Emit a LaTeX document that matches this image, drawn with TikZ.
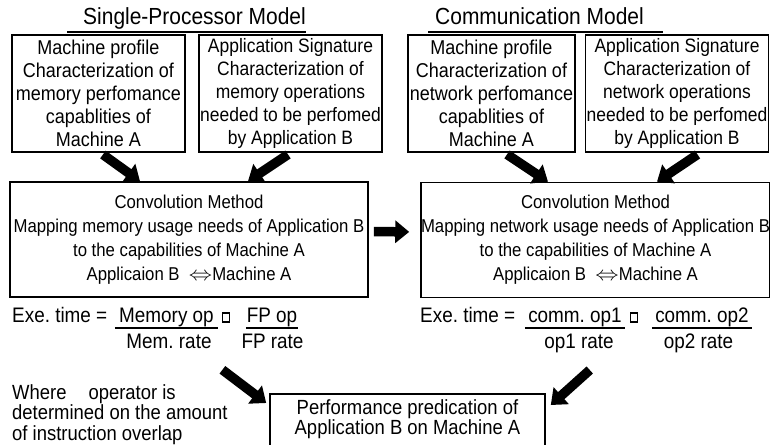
\documentclass[tikz,border=0pt]{standalone}
\usepackage{fontspec}
\setmainfont[FakeStretch=0.9]{Liberation Sans}
\usetikzlibrary{arrows.meta, positioning, calc}

\newcommand{\swap}{\scalebox{1.35}[1.15]{$\Leftrightarrow$}}

\begin{document}
\begin{tikzpicture}[
        x=1pt, y=-1pt,
        every node/.style={align=center, inner sep=0pt},
        box/.style={draw, line width=1.6pt, minimum height=117pt},
        profile/.style={box, font=\fontsize{20}{23}\selectfont},
        signature/.style={box, minimum width=183pt, font=\fontsize{19.4}{23}\selectfont},
        conv/.style={draw, line width=1.6pt, minimum height=115pt, font=\fontsize{18.6}{24}\selectfont},
        title/.style={anchor=base west, font=\fontsize{23.3}{24}\selectfont},
        formula/.style={anchor=base, font=\fontsize{21}{22}\selectfont},
        bar/.style={line width=1.3pt},
        opsym/.style={draw, line width=1.1pt, minimum width=7pt, minimum height=9pt},
        fat/.style={line width=9.5pt, -{Triangle[width=22pt, length=14pt]}, shorten <=3pt}
    ]
        \useasboundingbox (0,0) rectangle (770,444);
        \clip (0,0) rectangle (770,444);

        % titles
        \node[title] (titleL) at (83,25) {Single-Processor Model};
        \node[title] (titleR) at (435,25) {Communication Model};
        \draw[bar] ([shift={(-16pt,-7pt)}]titleL.base west) -- ([yshift=-7pt]titleL.base east);
        \draw[bar] ([shift={(-7pt,-7pt)}]titleR.base west) -- ([shift={(19pt,-7pt)}]titleR.base east);

        % machine profiles and application signatures
        \node[profile, minimum width=173pt] (mpL) at (98.5,93.5)
            {Machine profile\\Characterization of\\memory perfomance\\capablities of\\Machine A};
        \node[signature] (asL) at (290.5,93.5)
            {Application Signature\\Characterization of\\memory operations\\needed to be perfomed\\by Application B};
        \node[profile, minimum width=167pt] (mpR) at (491.5,93.5)
            {Machine profile\\Characterization of\\network perfomance\\capablities of\\Machine A};
        \node[signature] (asR) at (677,93.5)
            {Application Signature\\Characterization of\\network operations\\needed to be perfomed\\by Application B};

        % convolution
        \node[conv, minimum width=358pt] (convL) at (189,239.5)
            {Convolution Method\\Mapping memory usage needs of Application B\\to the capabilities of Machine A\\Applicaion B~~\swap Machine A};
        \node[conv, minimum width=347pt] (convR) at (595.5,240)
            {Convolution Method\\Mapping network usage needs of Application B\\to the capabilities of Machine A\\Applicaion B~~\swap Machine A};

        % execution time, single processor
        \node[formula, anchor=base west] (exeL) at (12,322) {Exe.\ time =};
        \node[formula, minimum width=103pt] (memop) at (166.5,322) {Memory op};
        \node[opsym] (opL) at (226,317.5) {};
        \node[formula, minimum width=52pt] (fpop) at (272,322) {FP op};
        \node[formula] (memrate) at (169,348) {Mem.\ rate};
        \node[formula] (fprate) at (272.5,348) {FP rate};
        \draw[bar] ([yshift=-6pt]memop.base west) -- ([yshift=-6pt]memop.base east);
        \draw[bar] ([yshift=-6pt]fpop.base west) -- ([yshift=-6pt]fpop.base east);

        % execution time, communication
        \node[formula, anchor=base west] (exeR) at (420,322) {Exe.\ time =};
        \node[formula, minimum width=100pt] (op1) at (575,322) {comm.\ op1};
        \node[opsym] (opR) at (634,317.5) {};
        \node[formula, minimum width=100pt] (op2) at (702,322) {comm.\ op2};
        \node[formula] (op1rate) at (579,348) {op1 rate};
        \node[formula] (op2rate) at (698.5,348) {op2 rate};
        \draw[bar] ([yshift=-6pt]op1.base west) -- ([yshift=-6pt]op1.base east);
        \draw[bar] ([yshift=-6pt]op2.base west) -- ([yshift=-6pt]op2.base east);

        % note and result
        \node[anchor=north west, align=left, font=\fontsize{20.5}{20.5}\selectfont] (where) at (12,384)
            {Where\hspace{22pt}operator is\\determined on the amount\\of instruction overlap};
        \node[draw, line width=1.6pt, minimum width=275pt, anchor=north, inner ysep=6pt,
              font=\fontsize{20.5}{20}\selectfont] (perf) at (407.5,393)
            {Performance predication of\\Application B on Machine A\\ \strut};

        % arrows
        \draw[fat] ([xshift=2pt]mpL.south) -- ([xshift=-49pt]convL.north);
        \draw[fat] (asL.south) -- ([xshift=59pt]convL.north);
        \draw[fat] ([xshift=13pt]mpR.south) -- ([xshift=-47.5pt]convR.north);
        \draw[fat] ([xshift=23pt]asR.south) -- ([xshift=61.5pt]convR.north);
        \draw[fat, shorten <=5pt, shorten >=11pt] ([yshift=8pt]convL.east) -- ([yshift=8pt]convR.west);
        \coordinate (tailL) at (220,368);
        \coordinate (tailR) at (592,368);
        \draw[fat] (tailL) -- ([shift={(-3pt,-10pt)}]perf.north west);
        \draw[fat] (tailR) -- ([shift={(5pt,-12pt)}]perf.north east);
    \end{tikzpicture}
\end{document}
